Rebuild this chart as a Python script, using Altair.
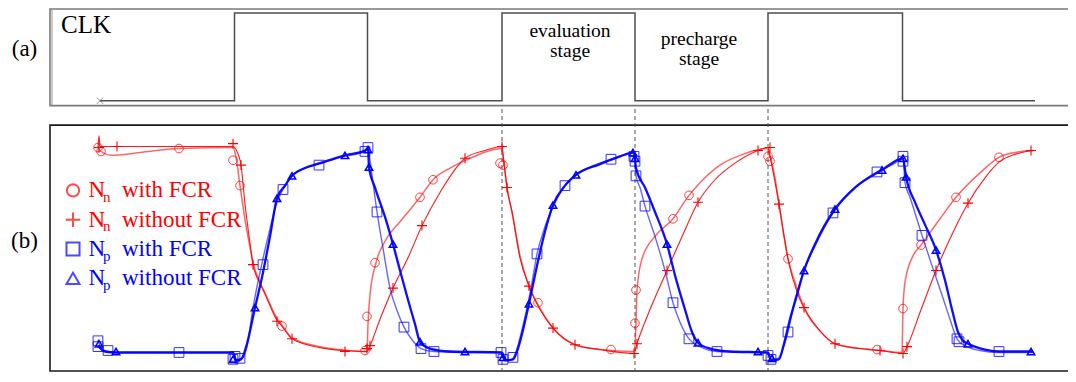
import altair as alt
import pandas as pd

# ---------------- data (time in ns, node voltage in V) ----------------
# Panel (a): clock edges and the level held after each edge
CLK_T = [0.0, 1.345, 2.675, 4.02, 5.35, 6.68, 8.025, 9.35]
CLK_V = [0, 1, 0, 1, 0, 1, 0, 0]
# boundaries of evaluation / precharge stages (dashed guides)
EDGE_T = [4.02, 5.35, 6.68]

# Panel (b): node waveforms (t, V)
NN_FCR = [(-0.02, 1.085), (0.04, 1.06), (0.12, 1.05), (0.40, 1.065), (0.79, 1.085), (1.33, 1.09),
          (1.36, 1.04), (1.40, 0.895), (1.45, 0.72), (1.50, 0.58), (1.53, 0.50), (1.60, 0.40),
          (1.65, 0.345), (1.77, 0.215), (1.82, 0.18), (1.92, 0.115), (2.20, 0.07), (2.45, 0.052),
          (2.67, 0.045), (2.68, 0.185), (2.70, 0.335),
          (2.76, 0.50), (2.85, 0.61), (3.00, 0.71), (3.20, 0.835), (3.33, 0.925), (3.50, 0.985),
          (3.70, 1.035), (3.90, 1.075), (4.01, 1.085), (4.04, 1.01), (4.07, 0.885), (4.12, 0.76),
          (4.20, 0.535), (4.29, 0.38), (4.38, 0.285), (4.53, 0.165), (4.75, 0.08), (5.00, 0.055),
          (5.34, 0.045), (5.36, 0.185), (5.37, 0.36), (5.42, 0.52), (5.55, 0.635), (5.73, 0.725),
          (5.89, 0.845), (6.00, 0.91), (6.20, 1.00), (6.40, 1.05), (6.67, 1.085), (6.70, 1.045),
          (6.75, 0.935), (6.79, 0.80), (6.84, 0.635), (6.88, 0.52), (6.96, 0.385), (7.04, 0.27),
          (7.20, 0.15), (7.35, 0.085), (7.60, 0.06), (7.80, 0.05), (8.02, 0.04), (8.03, 0.265),
          (8.05, 0.40), (8.13, 0.535), (8.21, 0.59), (8.40, 0.725), (8.56, 0.835), (8.80, 0.96),
          (8.99, 1.04), (9.15, 1.065), (9.33, 1.075)]
NN_NOFCR = [(-0.02, 1.09), (-0.01, 1.15), (0.00, 1.095), (0.17, 1.095), (1.33, 1.095), (1.36, 1.08),
            (1.41, 1.00), (1.45, 0.80), (1.50, 0.60), (1.53, 0.49), (1.60, 0.395), (1.65, 0.34),
            (1.77, 0.205), (1.82, 0.175), (1.92, 0.11),
            (2.20, 0.065), (2.45, 0.05), (2.67, 0.045), (2.70, 0.075), (2.80, 0.21), (2.93, 0.37),
            (3.08, 0.525), (3.22, 0.69), (3.40, 0.86), (3.65, 1.035), (3.85, 1.075), (4.02, 1.095),
            (4.04, 1.01), (4.07, 0.885), (4.12, 0.76), (4.20, 0.525), (4.29, 0.38), (4.40, 0.26),
            (4.53, 0.165), (4.75, 0.08), (5.00, 0.055), (5.34, 0.035), (5.37, 0.085), (5.50, 0.26),
            (5.67, 0.46), (5.83, 0.645), (5.98, 0.81), (6.15, 0.925), (6.35, 1.01), (6.58, 1.075),
            (6.68, 1.09), (6.70, 1.045), (6.79, 0.80), (6.88, 0.52), (6.97, 0.35), (7.04, 0.27),
            (7.20, 0.15), (7.35, 0.085), (7.60, 0.06), (7.80, 0.05), (8.03, 0.035), (8.07, 0.07),
            (8.20, 0.245), (8.36, 0.46), (8.52, 0.645), (8.68, 0.805), (8.85, 0.935), (8.99, 1.015),
            (9.15, 1.055), (9.33, 1.075)]
NP_FCR = [(-0.02, 0.105), (0.00, 0.075), (0.05, 0.05), (0.15, 0.04), (1.33, 0.04), (1.36, 0.005),
          (1.42, 0.01), (1.47, 0.07), (1.53, 0.27), (1.60, 0.45), (1.70, 0.675), (1.77, 0.81),
          (1.83, 0.875), (1.92, 0.945), (2.05, 0.985), (2.19, 1.005), (2.40, 1.04), (2.65, 1.07),
          (2.68, 1.085), (2.70, 1.025), (2.73, 0.91), (2.77, 0.76), (2.83, 0.575), (2.90, 0.37),
          (2.97, 0.255), (3.04, 0.17), (3.12, 0.105), (3.21, 0.06), (3.34, 0.045), (3.65, 0.04),
          (4.01, 0.04), (4.04, 0.0), (4.12, 0.005), (4.17, 0.06), (4.21, 0.135), (4.26, 0.245),
          (4.31, 0.37), (4.37, 0.545), (4.45, 0.685), (4.53, 0.785), (4.65, 0.895), (4.76, 0.95),
          (4.90, 0.99), (5.11, 1.03), (5.33, 1.06), (5.35, 1.035), (5.36, 0.945), (5.40, 0.885),
          (5.45, 0.79), (5.55, 0.635), (5.65, 0.46), (5.73, 0.295), (5.80, 0.195), (5.89, 0.11),
          (6.00, 0.07), (6.17, 0.045), (6.60, 0.04), (6.68, 0.035), (6.71, 0.005), (6.78, 0.01),
          (6.83, 0.06), (6.88, 0.145), (6.95, 0.31), (7.04, 0.46), (7.15, 0.585), (7.33, 0.755),
          (7.50, 0.86), (7.77, 0.965), (7.95, 1.01), (8.03, 1.04), (8.05, 0.91), (8.10, 0.835),
          (8.22, 0.64), (8.32, 0.485), (8.42, 0.335), (8.50, 0.21), (8.57, 0.11), (8.65, 0.075),
          (8.80, 0.05), (8.99, 0.04), (9.33, 0.04)]
NP_NOFCR = [(-0.02, 0.075), (0.05, 0.045), (0.16, 0.04), (1.33, 0.04), (1.36, 0.0), (1.41, 0.005),
            (1.47, 0.085), (1.55, 0.27), (1.62, 0.425), (1.70, 0.635), (1.77, 0.83), (1.85, 0.895),
            (1.92, 0.945), (2.05, 0.985), (2.20, 1.01), (2.45, 1.05), (2.65, 1.075), (2.68, 1.085),
            (2.69, 0.99), (2.75, 0.885), (2.85, 0.735), (2.93, 0.595), (3.00, 0.46), (3.08, 0.31),
            (3.15, 0.185), (3.20, 0.095), (3.30, 0.06), (3.50, 0.045), (4.02, 0.04), (4.05, 0.0),
            (4.13, 0.005), (4.18, 0.06), (4.22, 0.135), (4.29, 0.29), (4.37, 0.485), (4.45, 0.66),
            (4.53, 0.795), (4.65, 0.895), (4.76, 0.95), (5.00, 1.005), (5.20, 1.045), (5.34, 1.065),
            (5.36, 0.985), (5.45, 0.885), (5.55, 0.76), (5.67, 0.595), (5.75, 0.435), (5.85, 0.26),
            (5.92, 0.145), (5.98, 0.09), (6.10, 0.06), (6.30, 0.045), (6.68, 0.04), (6.71, 0.0),
            (6.79, 0.005), (6.84, 0.085), (6.90, 0.21), (6.97, 0.335), (7.04, 0.46), (7.15, 0.595),
            (7.35, 0.775), (7.55, 0.885), (7.82, 0.975), (8.03, 1.035), (8.06, 0.94), (8.15, 0.81),
            (8.25, 0.695), (8.36, 0.565), (8.45, 0.41), (8.52, 0.26), (8.58, 0.145), (8.63, 0.10),
            (8.68, 0.085), (8.85, 0.055), (9.00, 0.045), (9.33, 0.045)]

# marker samples on each waveform (t, V)
NN_FCR_MK = [(-0.02, 1.09), (0.01, 1.07), (0.79, 1.085), (1.33, 1.025), (1.40, 0.895), (1.82, 0.175),
             (2.65, 0.05), (2.67, 0.225), (2.75, 0.50), (3.20, 0.835), (3.33, 0.925), (4.00, 1.01),
             (4.03, 1.00), (4.38, 0.295), (5.11, 0.055), (5.35, 0.19), (5.36, 0.36), (5.73, 0.725),
             (5.89, 0.845), (6.68, 1.045), (6.70, 1.02), (6.88, 0.52), (7.77, 0.055), (8.03, 0.265),
             (8.21, 0.59), (8.56, 0.835), (8.99, 1.04)]
NN_NOFCR_MK = [(-0.01, 1.09), (0.17, 1.095), (1.33, 1.11), (1.41, 1.00), (1.53, 0.49), (1.77, 0.20),
               (1.92, 0.11), (2.45, 0.045), (2.67, 0.06), (2.70, 0.075), (2.93, 0.37), (3.22, 0.69),
               (3.65, 1.035), (4.02, 1.095), (4.07, 0.885), (4.29, 0.38), (4.53, 0.165), (4.75, 0.08),
               (5.34, 0.035), (5.37, 0.085), (5.67, 0.46), (5.98, 0.81), (6.58, 1.075), (6.70, 1.09),
               (6.79, 0.80), (7.04, 0.27), (7.35, 0.085), (7.80, 0.05), (8.03, 0.035), (8.07, 0.07),
               (8.36, 0.46), (8.68, 0.805), (9.31, 1.075)]
NP_FCR_MK = [(-0.02, 0.10), (-0.02, 0.07), (0.08, 0.05), (0.79, 0.04), (1.33, 0.005), (1.35, 0.02),
             (1.40, 0.01), (1.63, 0.49), (1.83, 0.875), (2.19, 1.00), (2.65, 1.07), (2.68, 1.09),
             (2.77, 0.76), (3.04, 0.17), (3.21, 0.06), (3.34, 0.045), (4.01, 0.04), (4.03, 0.005),
             (4.13, 0.015), (4.37, 0.545), (4.65, 0.895), (5.11, 1.03), (5.34, 1.045), (5.35, 1.02),
             (5.36, 0.945), (5.45, 0.79), (5.73, 0.295), (5.89, 0.11), (6.17, 0.045), (6.68, 0.025),
             (6.71, 0.005), (6.88, 0.145), (7.33, 0.755), (7.77, 0.965), (8.03, 1.045), (8.03, 1.02),
             (8.05, 0.91), (8.22, 0.64), (8.57, 0.11), (8.59, 0.095), (8.99, 0.045)]
NP_NOFCR_MK = [(-0.01, 0.085), (0.16, 0.045), (1.33, 0.005), (1.55, 0.27), (1.77, 0.83), (1.92, 0.945),
               (2.45, 1.05), (2.68, 1.08), (2.69, 0.99), (2.93, 0.595), (3.20, 0.095), (3.65, 0.045),
               (4.03, 0.015), (4.29, 0.29), (4.53, 0.795), (4.76, 0.95), (5.33, 1.065), (5.35, 1.035),
               (5.67, 0.595), (5.98, 0.09), (6.58, 0.045), (6.72, 0.01), (7.04, 0.46), (7.35, 0.775),
               (7.82, 0.975), (8.03, 1.035), (8.06, 0.94), (8.36, 0.565), (8.68, 0.085), (9.31, 0.045)]

LEGEND_NAMES = ["with FCR", "without FCR", "with FCR", "without FCR"]
LEGEND_SUBS = ["n", "n", "p", "p"]
STAGE_LABELS = ["evaluation\nstage", "precharge\nstage"]

# ---------------- layout ----------------
W, H = 1060, 364
T_MIN, T_MAX = -0.92, 9.68        # visible time window
L_MAX = 373                       # layout units (bottom of panel b = 0)
B_OFF, B_GAIN = 12, 200           # panel (b): volts -> layout
A_OFF, A_GAIN = 278, 90           # panel (a): clock level -> layout

RED, BLUE = "#ff0000", "#0000ff"
SERIF = "Liberation Serif, Times New Roman, serif"

xs = alt.Scale(domain=[T_MIN, T_MAX], nice=False, zero=False)
ys = alt.Scale(domain=[0, L_MAX], nice=False, zero=False)
X = alt.X("t:Q", scale=xs, axis=None)
Y = alt.Y("yl:Q", scale=ys, axis=None)

PLUS = "M-1,0L1,0M0,-1L0,1"
XMARK = "M-1,-1L1,1M1,-1L-1,1"


def wave_df(pairs):
    return pd.DataFrame({"t": [p[0] for p in pairs], "yl": [B_OFF + B_GAIN * p[1] for p in pairs]})


def line(pairs, color, width, opacity):
    return alt.Chart(wave_df(pairs)).mark_line(
        color=color, strokeWidth=width, opacity=opacity, interpolate="monotone"
    ).encode(x=X, y=Y)


def marks(pairs, shape, color, size, sw, opacity=1.0):
    return alt.Chart(wave_df(pairs)).mark_point(
        shape=shape, filled=False, color=color, size=size, strokeWidth=sw, opacity=opacity
    ).encode(x=X, y=Y)


def text(df, size, color="black", align="left", **kw):
    return alt.Chart(df).mark_text(
        font=SERIF, fontSize=size, color=color, align=align, baseline="alphabetic", **kw
    ).encode(x=X, y=Y, text="label:N")


layers = []

# frames of the two panels
frame_a = pd.DataFrame({"t": [-0.50], "t2": [9.9], "yl": [273], "yl2": [372]})
frame_b = pd.DataFrame({"t": [-0.50], "t2": [9.9], "yl": [1], "yl2": [253]})
layers.append(alt.Chart(frame_a).mark_rect(fillOpacity=0, stroke="#7a7a7a", strokeWidth=1.6).encode(
    x=X, x2="t2:Q", y=Y, y2="yl2:Q"))
layers.append(alt.Chart(pd.DataFrame({"t": [-0.48], "yl": [273], "yl2": [372]})).mark_rule(
    color="#9a9a9a", strokeWidth=1).encode(x=X, y=Y, y2="yl2:Q"))
layers.append(alt.Chart(frame_b).mark_rect(fillOpacity=0, stroke="#1a1a1a", strokeWidth=1.6).encode(
    x=X, x2="t2:Q", y=Y, y2="yl2:Q"))

# dashed stage boundaries
layers.append(alt.Chart(pd.DataFrame({"t": EDGE_T, "yl": [0] * 3, "yl2": [A_OFF - 5] * 3})).mark_rule(
    color="#555555", strokeWidth=1, strokeDash=[4, 3]).encode(x=X, y=Y, y2="yl2:Q"))

# clock
clk = pd.DataFrame({"t": CLK_T, "yl": [A_OFF + A_GAIN * v for v in CLK_V]})
layers.append(alt.Chart(clk).mark_line(color="#4d4d4d", strokeWidth=1.5, interpolate="step-after").encode(
    x=X, y=Y))
layers.append(alt.Chart(clk.iloc[[0]]).mark_point(shape=XMARK, filled=False, color="#666666", size=40,
                                                  strokeWidth=1).encode(x=X, y=Y))

# waveforms
layers.append(line(NN_FCR, RED, 1.5, 0.6))
layers.append(line(NN_NOFCR, RED, 1.1, 0.9))
layers.append(line(NP_FCR, BLUE, 1.4, 0.6))
layers.append(line(NP_NOFCR, BLUE, 2.3, 0.95))
layers.append(marks(NN_FCR_MK, "circle", RED, 75, 1, 0.75))
layers.append(marks(NN_NOFCR_MK, PLUS, RED, 100, 1.1))
layers.append(marks(NP_FCR_MK, "square", BLUE, 95, 1, 0.8))
layers.append(marks(NP_NOFCR_MK, "triangle-up", BLUE, 55, 1.5))

# texts of panel (a) and panel labels
layers.append(text(pd.DataFrame({"t": [-0.39], "yl": [347], "label": ["CLK"]}), 25))
layers.append(text(pd.DataFrame({"t": [-0.755, -0.755], "yl": [324, 127], "label": ["(a)", "(b)"]}), 23,
                   align="center"))
layers.append(text(pd.DataFrame({"t": [4.70, 5.99], "yl": [343, 335], "label": STAGE_LABELS}), 19.5,
                   align="center", lineBreak="\n", lineHeight=19.5))

# legend (markers + labels with subscripts)
leg_y = [179, 149, 119, 89]
leg_colors = [RED, RED, BLUE, BLUE]
leg_shapes = ["circle", PLUS, "square", "triangle-up"]
leg_sizes = [150, 210, 170, 170]
for i in range(4):
    c = leg_colors[i]
    layers.append(alt.Chart(pd.DataFrame({"t": [-0.27], "yl": [leg_y[i] + 7]})).mark_point(
        shape=leg_shapes[i], filled=False, color=c, size=leg_sizes[i], strokeWidth=2).encode(x=X, y=Y))
    layers.append(text(pd.DataFrame({"t": [-0.115], "yl": [leg_y[i]], "label": ["N"]}), 23, c))
    layers.append(text(pd.DataFrame({"t": [0.03], "yl": [leg_y[i] - 5], "label": [LEGEND_SUBS[i]]}), 15, c))
    layers.append(text(pd.DataFrame({"t": [0.22], "yl": [leg_y[i]], "label": [LEGEND_NAMES[i]]}), 23, c))

chart = alt.layer(*layers).properties(
    width=W, height=H, padding=0, autosize=alt.AutoSizeParams(type="none"), background="white"
).configure_view(stroke=None)

chart.save("out.html", embed_options={"renderer": "svg", "actions": False})
